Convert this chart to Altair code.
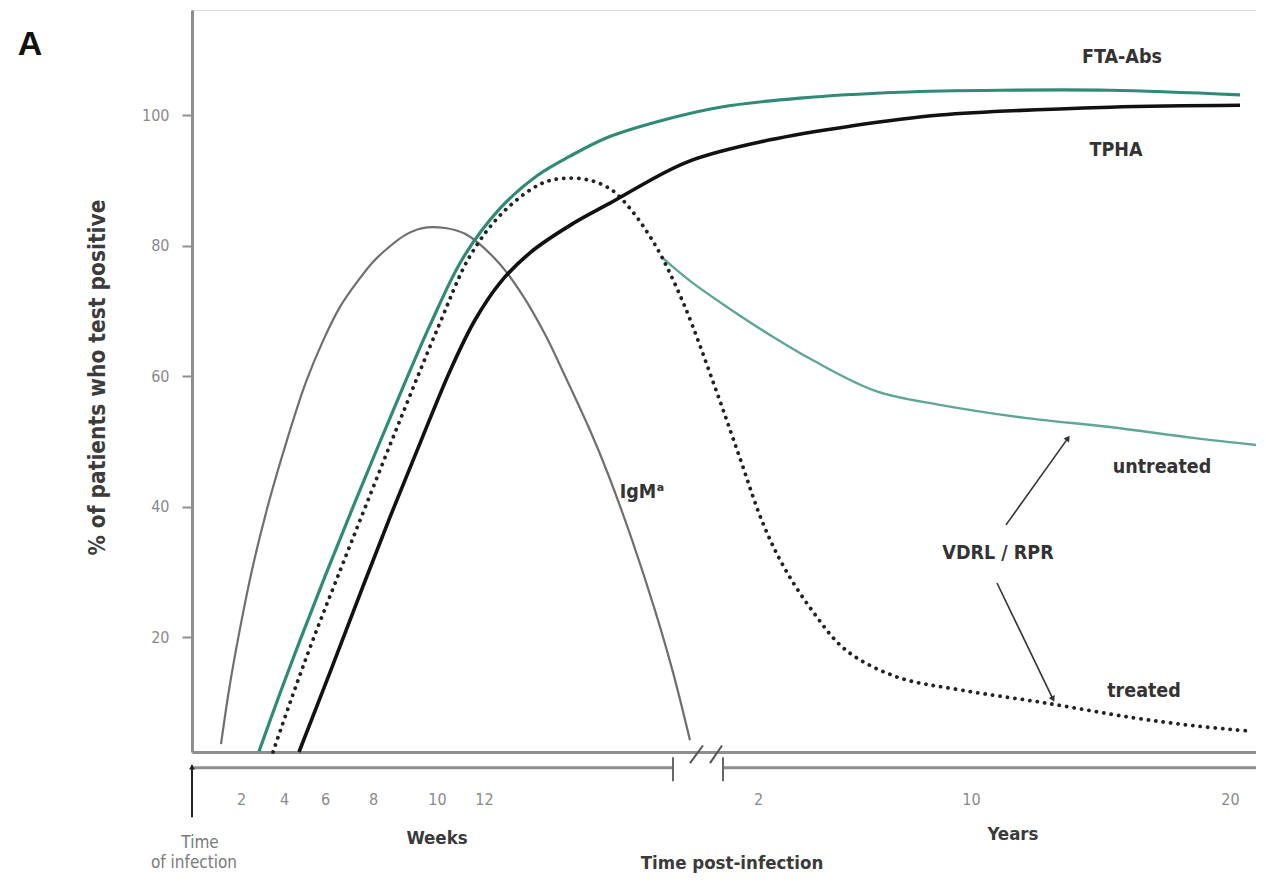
import altair as alt
import pandas as pd

# Schematic timeline: x = position along the time axis (weeks, axis break, years), y = % positive
igm_x = [29, 37, 46, 60, 76, 95, 114, 131, 148, 165, 181, 198, 213, 226, 235,
         253, 273, 306, 331, 353, 374, 398, 416, 440, 463, 481, 498]
igm_y = [3.6, 11.9, 19.7, 30.3, 40.2, 50.2, 59.1, 65.4, 70.6, 74.4, 77.5, 79.9, 81.6, 82.5, 82.8,
         82.7, 81.8, 77.5, 72.3, 66.4, 59.7, 51.7, 45.0, 34.9, 24.1, 14.6, 4.2]

fta_x = [67, 88, 108, 133, 163, 200, 238, 271, 308, 345, 378, 416, 468, 528, 608, 708, 808, 918, 1048]
fta_y = [2.5, 11.4, 19.5, 29.3, 40.7, 54.3, 67.8, 78.1, 85.7, 90.7, 93.7, 96.6, 99.1, 101.2, 102.6, 103.5, 103.8, 103.8, 103.1]

tpha_x = [107, 138, 168, 198, 228, 258, 283, 308, 338, 378, 418, 495, 578, 658, 748, 918, 1048]
tpha_y = [2.4, 14.6, 26.6, 38.4, 49.7, 60.8, 68.6, 74.3, 78.9, 83.1, 86.5, 92.8, 96.2, 98.3, 100.0, 101.2, 101.5]

vdrl_x = [81, 100, 120, 145, 174, 210, 247, 278, 311, 348, 371, 398, 420, 438, 455, 470, 493, 523, 548, 570,
          591, 620, 654, 705, 769, 854, 939, 1003, 1058]
vdrl_y = [2.4, 10.8, 19.2, 29.0, 40.2, 54.0, 67.8, 78.4, 85.1, 89.4, 90.3, 90.0, 88.5, 85.7, 82.1, 78.2, 70.6, 58.3, 47.4, 37.8,
          31.0, 24.1, 18.0, 13.9, 11.9, 9.9, 7.7, 6.4, 5.6]

untr_x = [470, 498, 535, 578, 620, 684, 748, 833, 918, 1003, 1067]
untr_y = [78.2, 74.6, 70.6, 66.3, 62.5, 57.7, 55.6, 53.6, 52.2, 50.5, 49.4]

# axis ticks
y_ticks = [20, 40, 60, 80, 100]
week_labels = ["2", "4", "6", "8", "10", "12"]
week_pos = [49, 92, 133, 181, 245, 292]
year_labels = ["2", "10", "20"]
year_pos = [566, 779, 1038]

# axis break / timeline decorations
timeline_x1 = [0, 531]
timeline_x2 = [481, 1070]
break_tick_x = [481, 531]
slash_x1 = [498, 518]
slash_x2 = [511, 530]

# annotations
plot_text = ["FTA-Abs", "TPHA", "IgMᵃ", "untreated", "VDRL / RPR", "treated"]
plot_text_x = [930, 924, 450, 970, 806, 952]
plot_text_y = [108.9, 94.6, 42.2, 46.1, 32.9, 11.8]

axis_text = ["Weeks", "Years", "Time post-infection"]
axis_text_x = [245, 821, 540]
axis_text_y = [-10.8, -10.2, -14.6]

origin_text = ["Time", "of infection"]
origin_text_x = [8, 2]
origin_text_y = [-11.6, -14.6]

arrow_x1 = [814, 805]
arrow_y1 = [37.2, 28.3]
arrow_x2 = [876, 861]
arrow_y2 = [50.5, 10.5]
arrow_angle = [35, 154]

FONT = "DejaVu Sans Condensed, DejaVu Sans, sans-serif"
GRAY = "#8e8e8e"
TEAL = "#2f8a76"
TEAL_LIGHT = "#5ea696"

label_map = {p: l for p, l in zip(week_pos + year_pos, week_labels + year_labels)}
expr = "''"
for p, l in label_map.items():
    expr = f"datum.value == {p} ? '{l}' : ({expr})"

xscale = alt.Scale(domain=[0, 1064], nice=False, zero=False)
yscale = alt.Scale(domain=[2.4, 116.1], nice=False, zero=False)

xaxis = alt.Axis(values=week_pos + year_pos, labelExpr=expr, title=None, grid=False,
                 domain=True, domainColor=GRAY, domainWidth=3, ticks=False,
                 labelPadding=39, labelFontSize=16, labelColor="#8a8a8a", labelFont=FONT,
                 labelOverlap=False, labelFlush=False)
yaxis = alt.Axis(values=y_ticks, title="% of patients who test positive", grid=False,
                 domain=True, domainColor=GRAY, domainWidth=3,
                 ticks=True, tickColor=GRAY, tickWidth=2, tickSize=10,
                 labelPadding=13, labelFontSize=16, labelColor="#8a8a8a", labelFont=FONT,
                 titleFont=FONT, titleFontSize=22.5, titleFontWeight="bold", titleColor="#3c3c3c",
                 titleAngle=270, titleX=-95, titleY=367, titleAlign="center", titleBaseline="middle")


def X(field="x"):
    return alt.X(f"{field}:Q", scale=xscale, axis=xaxis)


def Y(field="y"):
    return alt.Y(f"{field}:Q", scale=yscale, axis=yaxis)


def curve(xs, ys, **mark):
    df = pd.DataFrame({"x": xs, "y": ys})
    return alt.Chart(df).mark_line(interpolate="catmull-rom", **mark).encode(x=X(), y=Y())


igm = curve(igm_x, igm_y, color="#6f6f6f", strokeWidth=2.2)
fta = curve(fta_x, fta_y, color=TEAL, strokeWidth=3.2)
tpha = curve(tpha_x, tpha_y, color="#111111", strokeWidth=3.6)
vdrl = curve(vdrl_x, vdrl_y, color="#222222", strokeWidth=3.8, strokeDash=[0.1, 7.4], strokeCap="round")
untr = curve(untr_x, untr_y, color=TEAL_LIGHT, strokeWidth=2.4)

timeline = alt.Chart(pd.DataFrame({"x": timeline_x1, "x2": timeline_x2, "y": [0, 0]})).mark_rule(
    color=GRAY, strokeWidth=3).encode(x=X(), x2="x2:Q", y=Y())
break_ticks = alt.Chart(pd.DataFrame({"x": break_tick_x, "y": [1.6, 1.6], "y2": [-2.1, -2.1]})).mark_rule(
    color="#666666", strokeWidth=2).encode(x=X(), y=Y(), y2="y2:Q")
slashes = alt.Chart(pd.DataFrame({"x": slash_x1, "x2": slash_x2, "y": [0.7, 0.7], "y2": [3.4, 3.4]})).mark_rule(
    color="#555555", strokeWidth=2).encode(x=X(), x2="x2:Q", y=Y(), y2="y2:Q")

origin_arrow = alt.Chart(pd.DataFrame({"x": [0], "y": [0.4], "y2": [-7.6]})).mark_rule(
    color="#222222", strokeWidth=2).encode(x=X(), y=Y(), y2="y2:Q")
origin_head = alt.Chart(pd.DataFrame({"x": [0], "y": [0.1]})).mark_point(
    shape="triangle-up", size=35, filled=True, color="#222222", opacity=1).encode(x=X(), y=Y())

arrows = alt.Chart(pd.DataFrame({"x": arrow_x1, "y": arrow_y1, "x2": arrow_x2, "y2": arrow_y2})).mark_rule(
    color="#333333", strokeWidth=1.6).encode(x=X(), y=Y(), x2="x2:Q", y2="y2:Q")
heads = alt.Chart(pd.DataFrame({"x": arrow_x2, "y": arrow_y2, "a": arrow_angle})).mark_point(
    shape="triangle-up", size=45, filled=True, color="#333333", opacity=1).encode(
    x=X(), y=Y(), angle=alt.Angle("a:Q", scale=None))

labels = alt.Chart(pd.DataFrame({"x": plot_text_x, "y": plot_text_y, "t": plot_text})).mark_text(
    font=FONT, fontSize=19.5, fontWeight="bold", color="#333333", align="center", baseline="middle").encode(
    x=X(), y=Y(), text="t:N")
axis_labels = alt.Chart(pd.DataFrame({"x": axis_text_x, "y": axis_text_y, "t": axis_text})).mark_text(
    font=FONT, fontSize=18.5, fontWeight="bold", color="#3a3a3a", align="center", baseline="middle").encode(
    x=X(), y=Y(), text="t:N")
origin_labels = alt.Chart(pd.DataFrame({"x": origin_text_x, "y": origin_text_y, "t": origin_text})).mark_text(
    font=FONT, fontSize=17, color="#7a7a7a", align="center", baseline="middle").encode(
    x=X(), y=Y(), text="t:N")
panel = alt.Chart(pd.DataFrame({"x": [-162], "y": [110.7], "t": ["A"]})).mark_text(
    font="Liberation Sans, Arial, sans-serif", fontSize=34, fontWeight="bold", color="#111111",
    align="center", baseline="middle").encode(x=X(), y=Y(), text="t:N")

chart = alt.layer(
    igm, untr, vdrl, fta, tpha, timeline, break_ticks, slashes, origin_arrow, origin_head,
    arrows, heads, labels, axis_labels, origin_labels, panel
).properties(
    width=1064, height=742,
    padding={"left": 184, "top": 2, "right": 0, "bottom": 123},
    autosize=alt.AutoSizeParams(type="none"),
).configure_view(strokeWidth=0).configure(background="white")

chart.save("out.html", embed_options={"renderer": "svg", "actions": False})
